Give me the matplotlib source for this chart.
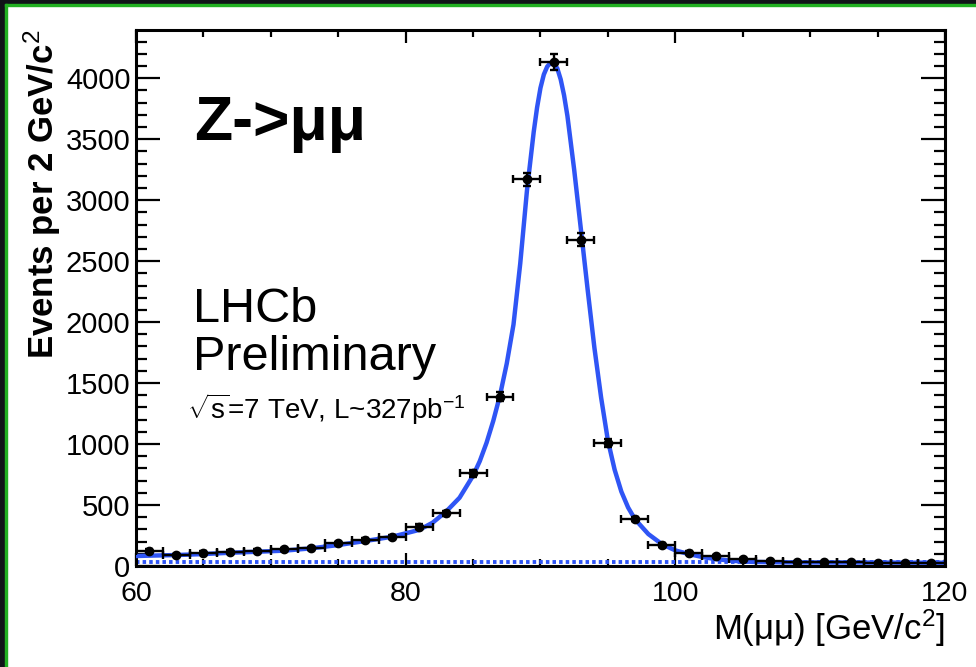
import matplotlib

matplotlib.use("Agg")

import matplotlib.pyplot as plt
import numpy as np
from matplotlib.patches import Rectangle
from matplotlib.ticker import MultipleLocator


# binned data, 2 GeV bins
bin_centers = [61, 63, 65, 67, 69, 71, 73, 75, 77, 79,
               81, 83, 85, 87, 89, 91, 93, 95, 97, 99,
               101, 103, 105, 107, 109, 111, 113, 115, 117, 119]
counts = [126, 90, 110, 118, 126, 137, 145, 186, 213, 235,
          323, 432, 761, 1388, 3170, 4130, 2677, 1010, 386, 172,
          109, 85, 55, 44, 30, 30, 30, 22, 22, 22]

# fit curve
fit_mass = [60, 61, 63, 65, 67, 69, 71, 73, 75, 77, 79, 81, 82, 83, 84, 85,
            85.5, 86, 86.5, 87, 87.5, 88, 88.5, 89, 89.5, 89.75, 90, 90.25,
            90.5, 90.75, 91, 91.25, 91.5, 91.75, 92, 92.5, 93, 93.5, 94,
            94.5, 95, 95.5, 96, 96.5, 97, 98, 99, 100, 101, 102, 103, 104,
            105, 106, 108, 110, 115, 120]
fit_events = [82, 85, 90, 98, 109, 117, 126, 145, 172, 205, 240, 296, 355, 446,
              560, 740, 860, 1010, 1190, 1400, 1660, 1980, 2480, 3080, 3560,
              3760, 3920, 4030, 4095, 4125, 4120, 4080, 3990, 3860, 3690,
              3250, 2760, 2266, 1790, 1380, 1030, 790, 610, 480, 385, 262,
              180, 128, 98, 74, 57, 45, 37, 33, 30, 29, 28, 27]

# background component
bg_mass = [60, 120]
bg_events = [30, 30]

plt.rcParams["font.family"] = ["Liberation Sans", "DejaVu Sans"]
plt.rcParams["mathtext.fontset"] = "custom"
plt.rcParams["mathtext.rm"] = "Liberation Sans"
plt.rcParams["mathtext.it"] = "Liberation Sans:italic"
plt.rcParams["mathtext.bf"] = "Liberation Sans:bold"

fig = plt.figure(figsize=(9.76, 6.67), dpi=100)
ax = fig.add_axes([0.1393, 0.1514, 0.8289, 0.8036])

blue = "#2f55f5"
ax.plot(bg_mass, bg_events, color=blue, lw=2.8, ls=(0, (0.9, 0.8)), zorder=2)
ax.plot(fit_mass, fit_events, color=blue, lw=3.2, zorder=3)
ax.errorbar(bin_centers, counts, xerr=1.0, yerr=np.sqrt(counts), fmt="o",
            color="black", ms=6, elinewidth=1.7, capsize=3, capthick=1.7, zorder=4)

ax.set_xlim(60, 120)
ax.set_ylim(0, 4395)
ax.xaxis.set_major_locator(MultipleLocator(20))
ax.xaxis.set_minor_locator(MultipleLocator(5))
ax.yaxis.set_major_locator(MultipleLocator(500))
ax.yaxis.set_minor_locator(MultipleLocator(100))
ax.tick_params(which="both", direction="in", top=True, right=True, width=1.6)
ax.tick_params(axis="y", which="major", length=17, pad=4, labelsize=21)
ax.tick_params(axis="y", which="minor", length=8)
ax.tick_params(axis="x", which="major", length=9.5, pad=10.5, labelsize=20.5)
ax.tick_params(axis="x", which="minor", length=5)
for side in ax.spines.values():
    side.set_linewidth(2.2)

ax.set_ylabel("Events per 2 GeV/c$^{2}$", fontsize=25, fontweight="bold", loc="top", labelpad=2)
ax.set_xlabel("M(μμ) [GeV/c$^{2}$]", fontsize=25, loc="right", labelpad=1)

ax.text(0.072, 0.795, "Z->μμ", transform=ax.transAxes, fontsize=45, fontweight="bold")
ax.text(0.07, 0.455, "LHCb", transform=ax.transAxes, fontsize=35)
ax.text(0.07, 0.366, "Preliminary", transform=ax.transAxes, fontsize=35)
ax.text(0.063, 0.275, r"$\sqrt{\mathrm{s}}$=7 TeV, L~327pb$^{-1}$", transform=ax.transAxes, fontsize=20)

# dark frame strip with green edge on the left and top
fig.patches.append(Rectangle((0, 0), 5 / 976, 1, transform=fig.transFigure, color="#101418", zorder=0))
fig.patches.append(Rectangle((0, 1 - 4 / 667), 1, 4 / 667, transform=fig.transFigure, color="#101418", zorder=0))
fig.patches.append(Rectangle((5 / 976, 0), 2 / 976, 1 - 4 / 667, transform=fig.transFigure, color="#22b022", zorder=1))
fig.patches.append(Rectangle((5 / 976, 1 - 6 / 667), 1, 2 / 667, transform=fig.transFigure, color="#22b022", zorder=1))

fig.savefig("out.png", dpi=100)
